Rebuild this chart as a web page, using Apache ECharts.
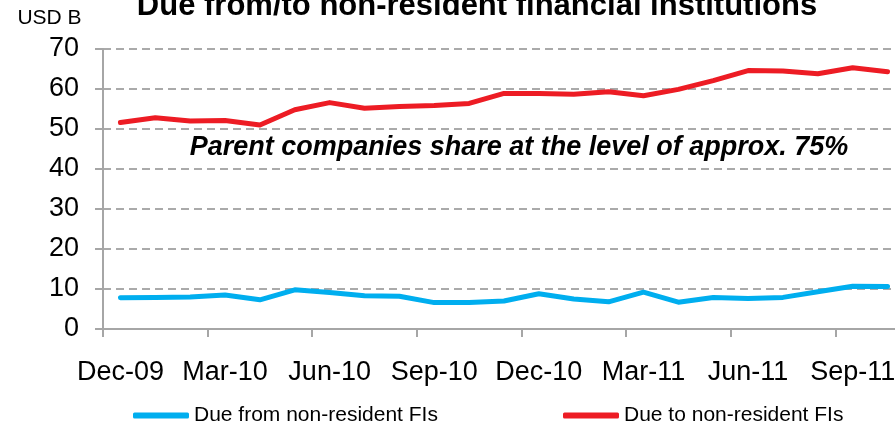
<!DOCTYPE html>
<html>
<head>
<meta charset="utf-8">
<script src="https://cdn.jsdelivr.net/npm/echarts@6/dist/echarts.min.js"></script>
<style>
  html, body { margin: 0; padding: 0; background: #fff; }
  #chart { width: 895px; height: 424px; }
</style>
</head>
<body>
<div id="chart"></div>
<script>
// Monthly observations, Dec-09 .. Oct-11 (USD billions)
var months = ['Dec-09','Jan-10','Feb-10','Mar-10','Apr-10','May-10','Jun-10','Jul-10','Aug-10','Sep-10','Oct-10','Nov-10',
              'Dec-10','Jan-11','Feb-11','Mar-11','Apr-11','May-11','Jun-11','Jul-11','Aug-11','Sep-11','Oct-11'];
var dueFrom = [7.8, 7.9, 8.0, 8.5, 7.3, 9.8, 9.1, 8.3, 8.2, 6.6, 6.6, 7.0,
               8.8, 7.5, 6.8, 9.2, 6.7, 7.9, 7.6, 7.9, 9.3, 10.7, 10.6];
var dueTo   = [51.6, 52.8, 52.0, 52.1, 51.0, 54.8, 56.6, 55.2, 55.6, 55.9, 56.4, 58.9,
               58.9, 58.7, 59.3, 58.3, 59.9, 62.1, 64.6, 64.5, 63.8, 65.3, 64.3];
var seriesNames = ['Due from non-resident FIs', 'Due to non-resident FIs'];
var yTicks = { min: 0, max: 70, step: 10 };

var FONT = '"Liberation Sans", Arial, Helvetica, sans-serif';
var GRAY = '#a6a6a6';

var chart = echarts.init(document.getElementById('chart'), null, { renderer: 'canvas' });

// The plot area runs past the right edge of the canvas, so the last months sit near the border.
chart.setOption({
  animation: false,
  backgroundColor: '#ffffff',
  textStyle: { fontFamily: FONT },
  grid: { left: 103, top: 49, width: 802, height: 280, containLabel: false, outerBoundsMode: 'none' },
  legend: [
    {
      data: [seriesNames[0]], left: 133, top: 405, padding: 0,
      icon: 'roundRect', itemWidth: 56, itemHeight: 6, itemGap: 0,
      textStyle: { fontFamily: FONT, fontSize: 21, color: '#000' }
    },
    {
      data: [seriesNames[1]], left: 563, top: 405, padding: 0,
      icon: 'roundRect', itemWidth: 56, itemHeight: 6, itemGap: 0,
      textStyle: { fontFamily: FONT, fontSize: 21, color: '#000' }
    }
  ],
  xAxis: {
    type: 'category',
    data: months,
    boundaryGap: true,
    axisLine: { lineStyle: { color: GRAY, width: 2 } },
    axisTick: { show: true, interval: 2, length: 8, lineStyle: { color: GRAY, width: 2 } },
    axisLabel: { interval: 2, margin: 30, fontSize: 27, color: '#000', fontFamily: FONT, hideOverlap: false },
    splitLine: { show: false }
  },
  yAxis: {
    type: 'value',
    min: yTicks.min, max: yTicks.max, interval: yTicks.step,
    axisLine: { show: true, lineStyle: { color: GRAY, width: 2 } },
    axisTick: { show: true, length: 8, lineStyle: { color: GRAY, width: 2 } },
    axisLabel: { margin: 24, fontSize: 27, color: '#000', fontFamily: FONT },
    splitLine: { show: true, lineStyle: { color: '#aaaaaa', width: 2, type: [8, 5] } }
  },
  series: [
    {
      name: seriesNames[0], type: 'line', data: dueFrom,
      symbol: 'none', smooth: false,
      itemStyle: { color: '#00AEEF' },
      lineStyle: { color: '#00AEEF', width: 5, cap: 'round', join: 'round' },
      z: 3
    },
    {
      name: seriesNames[1], type: 'line', data: dueTo,
      symbol: 'none', smooth: false,
      itemStyle: { color: '#ED1C24' },
      lineStyle: { color: '#ED1C24', width: 5, cap: 'round', join: 'round' },
      z: 3
    }
  ],
  graphic: [
    {
      type: 'text', x: 477, y: 6, z: 10,
      style: {
        text: 'Due from/to non-resident financial institutions',
        font: 'bold 31px ' + FONT, fill: '#000',
        align: 'center', verticalAlign: 'middle',
        textAlign: 'center', textVerticalAlign: 'middle'
      }
    },
    {
      type: 'text', x: 49.5, y: 18.7, z: 10,
      style: {
        text: 'USD B', font: '21px ' + FONT, fill: '#000',
        align: 'center', verticalAlign: 'middle',
        textAlign: 'center', textVerticalAlign: 'middle'
      }
    },
    {
      type: 'text', x: 519, y: 147.6, z: 10,
      style: {
        text: 'Parent companies share at the level of approx. 75%',
        font: 'italic bold 27px ' + FONT, fill: '#000',
        align: 'center', verticalAlign: 'middle',
        textAlign: 'center', textVerticalAlign: 'middle'
      }
    }
  ]
});
</script>
</body>
</html>
